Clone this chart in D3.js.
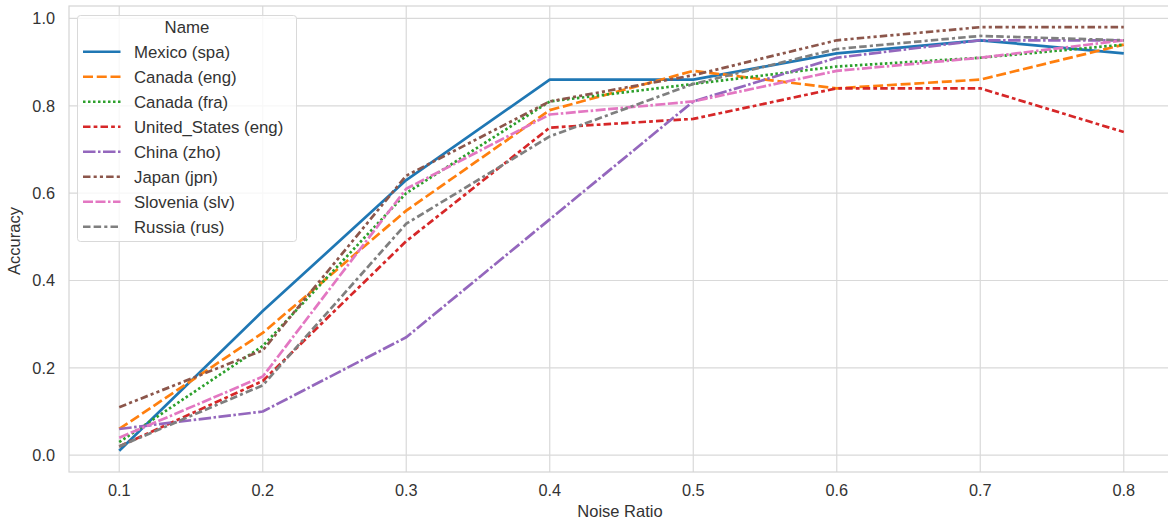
<!DOCTYPE html>
<html>
<head>
<meta charset="utf-8">
<script src="https://cdn.jsdelivr.net/npm/d3@7.9.0/dist/d3.min.js"></script>
<style>
  body { margin: 0; background: #fff; }
  svg { display: block; font-family: "Liberation Sans", Arial, sans-serif; }
</style>
</head>
<body>
<svg id="chart" width="1168" height="522"></svg>
<script>
const noiseRatios = [0.1, 0.2, 0.3, 0.4, 0.5, 0.6, 0.7, 0.8];
const seriesNames = ['Mexico (spa)', 'Canada (eng)', 'Canada (fra)', 'United_States (eng)',
  'China (zho)', 'Japan (jpn)', 'Slovenia (slv)', 'Russia (rus)'];

const mexicoSpa = [0.01, 0.33, 0.63, 0.86, 0.86, 0.92, 0.95, 0.92];
const canadaEng = [0.06, 0.28, 0.56, 0.79, 0.88, 0.84, 0.86, 0.94];
const canadaFra = [0.03, 0.25, 0.60, 0.81, 0.85, 0.89, 0.91, 0.94];
const unitedStatesEng = [0.02, 0.17, 0.49, 0.75, 0.77, 0.84, 0.84, 0.74];
const chinaZho = [0.06, 0.10, 0.27, 0.54, 0.81, 0.91, 0.95, 0.95];
const japanJpn = [0.11, 0.24, 0.64, 0.81, 0.87, 0.95, 0.98, 0.98];
const sloveniaSlv = [0.04, 0.18, 0.61, 0.78, 0.81, 0.88, 0.91, 0.95];
const russiaRus = [0.02, 0.16, 0.53, 0.73, 0.85, 0.93, 0.96, 0.95];

const yTicks = [0.0, 0.2, 0.4, 0.6, 0.8, 1.0];

const allValues = [mexicoSpa, canadaEng, canadaFra, unitedStatesEng, chinaZho, japanJpn, sloveniaSlv, russiaRus];
const colors = ['#1f77b4', '#ff7f0e', '#2ca02c', '#d62728', '#9467bd', '#8c564b', '#e377c2', '#7f7f7f'];
// seaborn style dashes, in units of line width
const dashes = [[], [4, 1.5], [1, 1], [3, 1.25, 1.5, 1.25], [5, 1, 1, 1],
  [3, 1.25, 1.25, 1.25, 1.25, 1.25], [4, 1, 4, 1, 1, 1], [3, 1.25, 3, 1.25, 1.25, 1.25]];
const lw = 2.5;

const svg = d3.select('#chart');
const plotLeft = 69, plotRight = 1174, plotTop = 6, plotBottom = 472;

const x = d3.scaleLinear().domain([0.065, 0.835]).range([plotLeft, plotRight]);
const y = d3.scaleLinear().domain([-0.0385, 1.0285]).range([plotBottom, plotTop]);

// grid
const g = svg.append('g');
g.selectAll('.vgrid').data(noiseRatios).join('line')
  .attr('x1', d => x(d)).attr('x2', d => x(d))
  .attr('y1', plotTop).attr('y2', plotBottom)
  .attr('stroke', '#d9d9d9').attr('stroke-width', 1.2);
g.selectAll('.hgrid').data(yTicks).join('line')
  .attr('x1', plotLeft).attr('x2', plotRight)
  .attr('y1', d => y(d)).attr('y2', d => y(d))
  .attr('stroke', '#d9d9d9').attr('stroke-width', 1.2);

// frame
svg.append('rect')
  .attr('x', plotLeft).attr('y', plotTop)
  .attr('width', plotRight - plotLeft).attr('height', plotBottom - plotTop)
  .attr('fill', 'none').attr('stroke', '#d4d4d4').attr('stroke-width', 1.2);

// tick labels
svg.selectAll('.xtick').data(noiseRatios).join('text')
  .attr('x', d => x(d)).attr('y', 496)
  .attr('text-anchor', 'middle')
  .attr('font-size', 16.3).attr('fill', '#333')
  .text(d => d.toFixed(1));
svg.selectAll('.ytick').data(yTicks).join('text')
  .attr('x', 55).attr('y', d => y(d) + 5.8)
  .attr('text-anchor', 'end')
  .attr('font-size', 16.3).attr('fill', '#333')
  .text(d => d.toFixed(1));

// axis titles
svg.append('text')
  .attr('x', 620).attr('y', 516.5)
  .attr('text-anchor', 'middle')
  .attr('font-size', 16.5).attr('fill', '#333')
  .text('Noise Ratio');
svg.append('text')
  .attr('transform', 'translate(20,241) rotate(-90)')
  .attr('text-anchor', 'middle')
  .attr('font-size', 16.5).attr('fill', '#333')
  .text('Accuracy');

// lines
const line = d3.line().x((d, i) => x(noiseRatios[i])).y(d => y(d));
allValues.forEach((vals, idx) => {
  svg.append('path')
    .attr('d', line(vals))
    .attr('fill', 'none')
    .attr('stroke', colors[idx])
    .attr('stroke-width', 2.7)
    .attr('stroke-linejoin', 'round')
    .attr('stroke-dasharray', dashes[idx].length ? dashes[idx].map(v => v * lw).join(',') : null);
});

// legend
const legend = svg.append('g');
legend.append('rect')
  .attr('x', 77.5).attr('y', 15.5).attr('width', 219).attr('height', 226)
  .attr('rx', 3)
  .attr('fill', 'rgba(255,255,255,0.8)').attr('stroke', '#d9d9d9');
legend.append('text')
  .attr('x', 187).attr('y', 32.5)
  .attr('text-anchor', 'middle')
  .attr('font-size', 16.8).attr('fill', '#333')
  .text('Name');
seriesNames.forEach((name, idx) => {
  const ly = 51.7 + idx * 25;
  legend.append('line')
    .attr('x1', 83).attr('x2', 120.5).attr('y1', ly).attr('y2', ly)
    .attr('stroke', colors[idx]).attr('stroke-width', 2.5)
    .attr('stroke-dasharray', dashes[idx].length ? dashes[idx].map(v => v * lw).join(',') : null);
  legend.append('text')
    .attr('x', 134).attr('y', ly + 6.6)
    .attr('font-size', 16.8).attr('fill', '#333')
    .text(name);
});
</script>
</body>
</html>
